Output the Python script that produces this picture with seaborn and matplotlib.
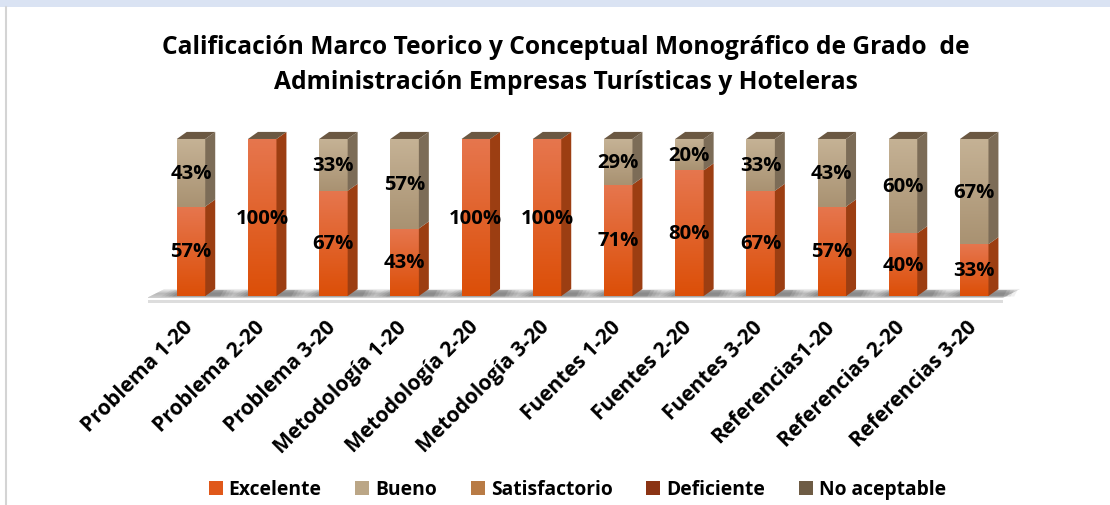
import numpy as np
import pandas as pd
import matplotlib
matplotlib.use("Agg")
import matplotlib.pyplot as plt
import matplotlib.transforms as mtransforms
import seaborn as sns
from matplotlib.patches import Polygon, Rectangle
from matplotlib.colors import LinearSegmentedColormap

# ---- data -------------------------------------------------------------
categories = ["Problema 1-20", "Problema 2-20", "Problema 3-20",
              "Metodología 1-20", "Metodología 2-20", "Metodología 3-20",
              "Fuentes 1-20", "Fuentes 2-20", "Fuentes 3-20",
              "Referencias1-20", "Referencias 2-20", "Referencias 3-20"]
excelente = [57, 100, 67, 43, 100, 100, 71, 80, 67, 57, 40, 33]
bueno = [43, 0, 33, 57, 0, 0, 29, 20, 33, 43, 60, 67]
satisfactorio = [0] * 12
deficiente = [0] * 12
no_aceptable = [0] * 12
series_names = ["Excelente", "Bueno", "Satisfactorio", "Deficiente", "No aceptable"]
title = ("Calificación Marco Teorico y Conceptual Monográfico de Grado  de\n"
         "Administración Empresas Turísticas y Hoteleras")

# ---- styling ----------------------------------------------------------
front_top = ["#E6764E", "#C5B295", "#C48A55", "#9A3A18", "#7A6850"]
front_bot = ["#DC4F08", "#A99272", "#A86A35", "#7E2A0A", "#5F4E3A"]
side_col = ["#9C3E12", "#7C6C57", "#8A5A2E", "#5E200A", "#4E4030"]
top_col = "#6B5842"
legend_col = ["#E0581A", "#BBA686", "#B87B45", "#8B3414", "#6E5C45"]

sns.set_theme(style="white")
plt.rcParams["font.family"] = ["Open Sans", "DejaVu Sans"]
plt.rcParams["font.weight"] = "bold"
plt.rcParams["text.color"] = "black"
plt.rcParams["xtick.color"] = "black"

fig = plt.figure(figsize=(11.1, 5.06), dpi=100)
fig.patch.set_facecolor("white")
ax = fig.add_axes([0.1336, 0.3974, 0.7954, 0.357])
ax.set_facecolor("none")

series = [excelente, bueno, satisfactorio, deficiente, no_aceptable]
cum = np.cumsum(np.array(series, dtype=float), axis=0)

# stacked bars: draw cumulative totals from the top of the stack down
for j in range(len(series) - 1, -1, -1):
    df = pd.DataFrame({"categoria": categories, "valor": cum[j]})
    sns.barplot(data=df, x="categoria", y="valor", order=categories,
                color=legend_col[j], saturation=1, width=0.4, ax=ax,
                errorbar=None, zorder=3, linewidth=0)

bars = ax.patches[-len(categories):]
dx, dy = 0.14, 4.5

# floor under the bars
floor = Polygon([(-0.62, -1.2), (11.4, -1.2), (11.64, 4.5), (-0.37, 4.5)],
                closed=True, facecolor="#E6E6E6", edgecolor="none", zorder=1)
ax.add_patch(floor)
fgrad = np.linspace(0, 1, 64).reshape(-1, 1)
fcmap = LinearSegmentedColormap.from_list("floor", ["#D0D0D0", "#B8B8B8", "#F2F2F2"])
im = ax.imshow(fgrad, extent=(-0.7, 11.7, -1.2, 4.5), origin="lower",
               aspect="auto", cmap=fcmap, zorder=1.2)
im.set_clip_path(floor)
ax.add_patch(Rectangle((-0.62, -4.5), 12.02, 2.3, facecolor="#DDDDDD",
                       edgecolor="none", zorder=1))

# soft shadows cast by the bars on the floor
for b in bars:
    x0 = b.get_x()
    x1 = x0 + b.get_width()
    for k, a in enumerate([0.08, 0.10, 0.14, 0.18]):
        pad = 0.22 - 0.05 * k
        ax.add_patch(Polygon([(x0 - pad, -0.3), (x1 + dx + pad, -0.3),
                              (x1 + dx + pad + 0.05, 3.8), (x0 + dx - pad, 3.8)],
                             closed=True, facecolor="#4A4A4A", alpha=a,
                             edgecolor="none", zorder=1.5))

# gradient fronts, side and top faces of each segment
for j in range(len(series)):
    cmap = LinearSegmentedColormap.from_list(f"s{j}", [front_bot[j], front_top[j]])
    grad = np.linspace(0, 1, 64).reshape(-1, 1)
    for i, b in enumerate(bars):
        y0 = cum[j - 1][i] if j > 0 else 0.0
        y1 = cum[j][i]
        if y1 - y0 <= 0:
            continue
        x0 = b.get_x()
        x1 = x0 + b.get_width()
        rect = Rectangle((x0, y0), x1 - x0, y1 - y0, transform=ax.transData)
        g = ax.imshow(grad, extent=(x0, x1, y0, y1), origin="lower",
                      aspect="auto", cmap=cmap, zorder=4)
        g.set_clip_path(rect)
        ax.add_patch(Polygon([(x1, y0), (x1 + dx, y0 + dy), (x1 + dx, y1 + dy), (x1, y1)],
                             closed=True, facecolor=side_col[j], edgecolor="none", zorder=4))
        if y1 >= cum[-1][i]:
            ax.add_patch(Polygon([(x0, y1), (x1, y1), (x1 + dx, y1 + dy), (x0 + dx, y1 + dy)],
                                 closed=True, facecolor=top_col, edgecolor="none", zorder=4))
        ax.text((x0 + x1) / 2, (y0 + y1) / 2, f"{series[j][i]}%", ha="center",
                va="center", fontsize=14.6, fontweight="bold", color="black", zorder=6)

ax.set_xlim(-0.6, 11.8)
ax.set_ylim(-5, 110)
ax.set_xlabel("")
ax.set_ylabel("")
ax.set_yticks([])
ax.set_xticks(range(len(categories)))
ax.set_xticklabels(categories, rotation=45, ha="right", va="center",
                   rotation_mode="anchor", fontsize=15, fontweight="bold")
ax.tick_params(axis="x", length=0, pad=14)
shift = mtransforms.ScaledTranslation(-1 / 100, 0, fig.dpi_scale_trans)
for lbl in ax.get_xticklabels():
    lbl.set_transform(lbl.get_transform() + shift)
for s in ax.spines.values():
    s.set_visible(False)

fig.text(0.51, 0.872, title, ha="center", va="center", fontsize=17.7,
         fontweight="bold", linespacing=1.5)

handles = [Rectangle((0, 0), 1, 1, facecolor=c, edgecolor="none") for c in legend_col]
fig.legend(handles, series_names, loc="center", bbox_to_anchor=(0.52, 0.031),
           ncol=5, frameon=False, handlelength=0.73, handleheight=0.73,
           handletextpad=0.3, columnspacing=1.75,
           prop={"weight": "bold", "size": 13.9})

# window chrome: light blue band on top and thin frame on the left
fig.patches.append(Rectangle((0, 1 - 8 / 506), 1, 8 / 506, transform=fig.transFigure,
                             facecolor="#DAE3F3", edgecolor="none", zorder=0))
fig.lines.append(plt.Line2D([6 / 1110, 6 / 1110], [0, 1 - 8 / 506],
                            transform=fig.transFigure, color="#D4D4D4", lw=1.5))

fig.savefig("out.png", dpi=100, facecolor="white")
